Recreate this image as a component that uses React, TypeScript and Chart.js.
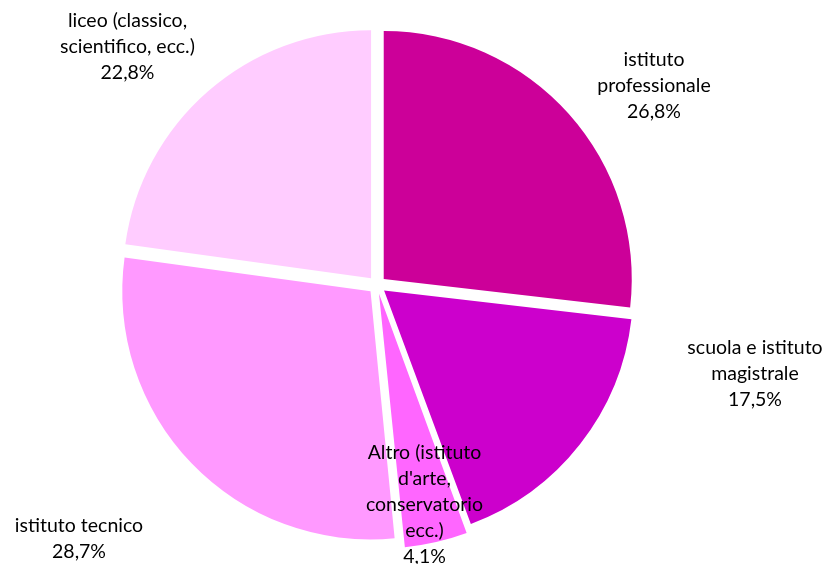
import React, { useEffect, useRef } from "react";
import { Chart, registerables } from "chart.js";

Chart.register(...registerables);

const categories: string[][] = [
  ["istituto", "professionale"],
  ["scuola e istituto", "magistrale"],
  ["Altro (istituto", "d'arte,", "conservatorio", "ecc.)"],
  ["istituto tecnico"],
  ["liceo (classico,", "scientifico, ecc.)"],
];
const values: number[] = [26.8, 17.5, 4.1, 28.7, 22.8];
const colors: string[] = ["#CC0099", "#CC00CC", "#FF66FF", "#FF99FF", "#FFCCFF"];

// label block centres relative to the pie centre (layout only)
const labelOffsets: [number, number][] = [
  [277, -199],
  [378, 89],
  [47.5, 219.5],
  [-298, 254],
  [-249.5, -238.5],
];

const fmt = (v: number) => v.toFixed(1).replace(".", ",") + "%";

const labelPlugin = {
  id: "outerLabels",
  afterDatasetsDraw(chart: any) {
    const meta = chart.getDatasetMeta(0);
    const ctx = chart.ctx;
    ctx.save();
    ctx.font = "19.5px Lato";
    ctx.fillStyle = "#000000";
    ctx.textAlign = "center";
    ctx.textBaseline = "middle";
    const lh = 26;
    meta.data.forEach((arc: any, i: number) => {
      const cx = arc.x;
      const cy = arc.y;
      const lines = [...categories[i], fmt(values[i])];
      const bx = cx + labelOffsets[i][0];
      const by = cy + labelOffsets[i][1];
      const top = by - ((lines.length - 1) * lh) / 2;
      lines.forEach((t, j) => ctx.fillText(t, bx, top + j * lh));
    });
    ctx.restore();
  },
};

export default function App() {
  const ref = useRef<HTMLCanvasElement | null>(null);
  useEffect(() => {
    if (!ref.current) return;
    const chart = new Chart(ref.current, {
      type: "pie",
      data: {
        labels: categories.map((c) => c.join(" ")),
        datasets: [
          {
            data: values,
            backgroundColor: colors,
            borderWidth: 0,
            offset: 36,
          },
        ],
      },
      options: {
        responsive: false,
        animation: false,
        radius: 248,
        layout: { padding: { left: 0, right: 73, top: 6, bottom: 0 } },
        plugins: {
          legend: { display: false },
          tooltip: { enabled: false },
        },
      } as any,
      plugins: [labelPlugin],
    });
    return () => chart.destroy();
  }, []);
  return (
    <div style={{ position: "absolute", left: 0, top: 0, width: 827, height: 564, background: "#fff" }}>
      <canvas ref={ref} width={827} height={564} />
    </div>
  );
}
